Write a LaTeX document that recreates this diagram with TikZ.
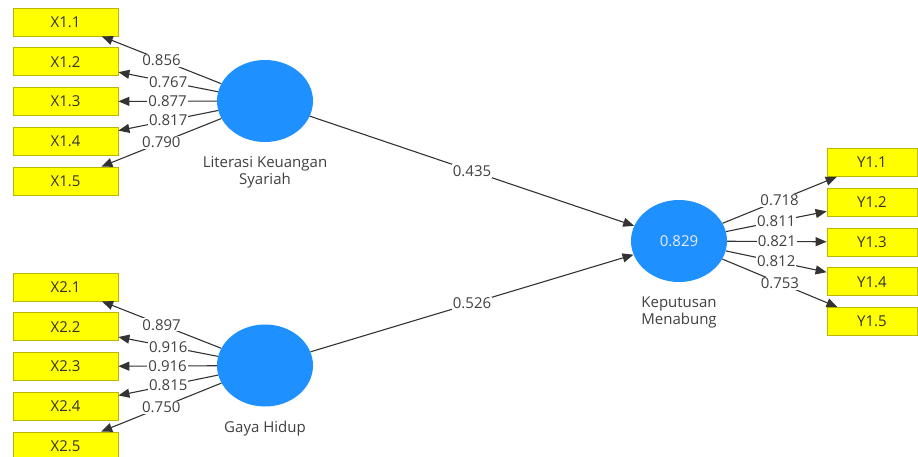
\documentclass[tikz,border=0pt]{standalone}
\usepackage{fontspec}
\setmainfont{Open Sans}
\usetikzlibrary{arrows.meta,positioning,shapes.geometric}

\definecolor{lvblue}{HTML}{1E90FF}
\definecolor{indyellow}{HTML}{FFFF00}
\definecolor{indborder}{HTML}{B8B800}
\definecolor{pathgray}{HTML}{333333}
\definecolor{textgray}{HTML}{404040}

\tikzset{
  indicator/.style={rectangle,draw=indborder,fill=indyellow,line width=0.8pt,
    minimum width=105pt,minimum height=28pt,inner sep=0pt,text=black!80},
  indicatorR/.style={indicator,minimum width=90pt},
  latent/.style={ellipse,fill=lvblue,minimum width=96pt,minimum height=82pt,
    inner sep=0pt,text=white!92!blue},
  lvname/.style={align=center,inner sep=0pt,text=textgray},
  load/.style={fill=white,inner sep=1pt,text=textgray},
}

\begin{document}
\begin{tikzpicture}[x=1pt,y=-1pt,node distance=39.75pt,
  font=\fontsize{15}{17}\selectfont,
  every edge/.style={draw=pathgray,line width=1.1pt,-{Triangle[length=11pt,width=9pt]}}]
\useasboundingbox (0,0) rectangle (918,456);

\node[indicator] (x11) at (65.5,22) {X1.1};
\node[indicator] (x12)[below of=x11] {X1.2};
\node[indicator] (x13)[below of=x12] {X1.3};
\node[indicator] (x14)[below of=x13] {X1.4};
\node[indicator] (x15)[below of=x14] {X1.5};

\node[indicator] (x21) at (65.5,287) {X2.1};
\node[indicator] (x22)[below of=x21] {X2.2};
\node[indicator] (x23)[below of=x22] {X2.3};
\node[indicator] (x24)[below of=x23] {X2.4};
\node[indicator] (x25)[below of=x24] {X2.5};

\node[indicatorR] (y11) at (872,162.5) {Y1.1};
\node[indicatorR] (y12)[below of=y11] {Y1.2};
\node[indicatorR] (y13)[below of=y12] {Y1.3};
\node[indicatorR] (y14)[below of=y13] {Y1.4};
\node[indicatorR] (y15)[below of=y14] {Y1.5};

\node[latent] (lks) at (265,101) {};
\node[latent] (gh) at (265,365.5) {};
\node[latent] (km) at (679,241) {0.829};

\node[lvname] (lkstext)[below=14pt of lks] {Literasi Keuangan\\Syariah};
\node[lvname] (ghtext)[below=14pt of gh] {Gaya Hidup};
\node[lvname] (kmtext)[below=14pt of km] {Keputusan\\Menabung};

\path	(lks) edge node[load] {0.856} (x11)
		(lks) edge node[load] {0.767} (x12)
		(lks) edge node[load] {0.877} (x13)
		(lks) edge node[load] {0.817} (x14)
		(lks) edge node[load] {0.790} (x15)
		(gh) edge node[load] {0.897} (x21)
		(gh) edge node[load] {0.916} (x22)
		(gh) edge node[load] {0.916} (x23)
		(gh) edge node[load] {0.815} (x24)
		(gh) edge node[load] {0.750} (x25)
		(km) edge node[load] {0.718} (y11)
		(km) edge node[load] {0.811} (y12)
		(km) edge node[load] {0.821} (y13)
		(km) edge node[load] {0.812} (y14)
		(km) edge node[load] {0.753} (y15)
		(lks) edge node[load] {0.435} (km)
		(gh) edge node[load] {0.526} (km)
;;
\end{tikzpicture}
\end{document}
